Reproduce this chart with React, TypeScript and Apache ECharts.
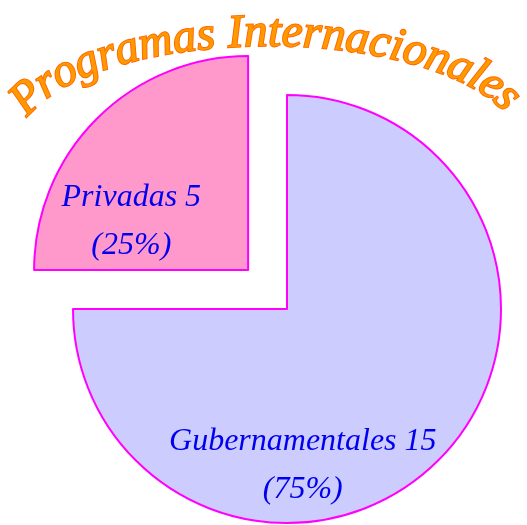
import React, { useEffect, useRef } from 'react';
import * as echarts from 'echarts';

const categories = ['Gubernamentales', 'Privadas'];
const values = [15, 5];
const sliceColors = ['#ccccff', '#ff99cc'];
const titleText = 'Programas Internacionales';

function buildTitle(): any[] {
  const fontSize = 47;
  const font = `italic ${fontSize}px 'Liberation Serif'`;
  const canvas = document.createElement('canvas');
  const ctx = canvas.getContext('2d')!;
  ctx.font = font;
  const chars = titleText.split('');
  const widths = chars.map((c) => ctx.measureText(c).width);
  const cx = 268, cy = 136, a = 262, b = 106;
  const t0 = (164 * Math.PI) / 180, t1 = (19 * Math.PI) / 180;
  const N = 3000;
  const pts: { x: number; y: number; t: number; s: number }[] = [];
  let len = 0;
  let px = 0, py = 0;
  for (let i = 0; i <= N; i++) {
    const t = t0 + ((t1 - t0) * i) / N;
    const x = cx + a * Math.cos(t);
    const y = cy - b * Math.sin(t);
    if (i > 0) len += Math.hypot(x - px, y - py);
    px = x; py = y;
    pts.push({ x, y, t, s: len });
  }
  const W = widths.reduce((s, w) => s + w, 0);
  const gap = (len - W) / (chars.length - 1);
  let s = 0;
  const els: any[] = [];
  chars.forEach((c, i) => {
    const mid = s + widths[i] / 2;
    s += widths[i] + gap;
    if (c === ' ') return;
    let k = 0;
    while (k < pts.length - 1 && pts[k].s < mid) k++;
    const p = pts[k];
    const ang = Math.atan2(b * Math.cos(p.t), a * Math.sin(p.t));
    els.push({
      type: 'text',
      x: p.x,
      y: p.y,
      rotation: -ang,
      z: 100,
      style: {
        text: c,
        font,
        fill: '#ff9900',
        stroke: '#ff6600',
        lineWidth: 1.8,
        align: 'center',
        verticalAlign: 'middle',
      },
    });
  });
  return els;
}

export default function App() {
  const ref = useRef<HTMLDivElement>(null);
  useEffect(() => {
    if (!ref.current) return;
    const chart = echarts.init(ref.current, null, { renderer: 'svg' });
    const labelOffsets = [
      [-62, 76],
      [-39, 27],
    ];
    chart.setOption({
      animation: false,
      graphic: { elements: buildTitle() },
      series: [
        {
          type: 'pie',
          center: [287, 309],
          radius: 214,
          startAngle: 90,
          clockwise: true,
          selectedMode: 'single',
          selectedOffset: 55,
          avoidLabelOverlap: false,
          emphasis: { disabled: true },
          itemStyle: { borderColor: '#ff00ff', borderWidth: 2 },
          label: {
            show: true,
            position: 'inside',
            formatter: '{b} {c}\n({d}%)',
            color: '#0000ee',
            fontFamily: "'Liberation Serif', serif",
            fontStyle: 'italic',
            fontSize: 32,
            lineHeight: 48,
            align: 'center',
          },
          labelLine: { show: false },
          data: categories.map((name, i) => ({
            name,
            value: values[i],
            selected: i === 1,
            itemStyle: { color: sliceColors[i] },
            label: { offset: labelOffsets[i] },
            select: { label: { offset: labelOffsets[i] } },
          })),
        },
      ],
    });
    return () => chart.dispose();
  }, []);
  return (
    <div
      ref={ref}
      style={{ position: 'fixed', left: 0, top: 0, width: 527, height: 525 }}
    />
  );
}
